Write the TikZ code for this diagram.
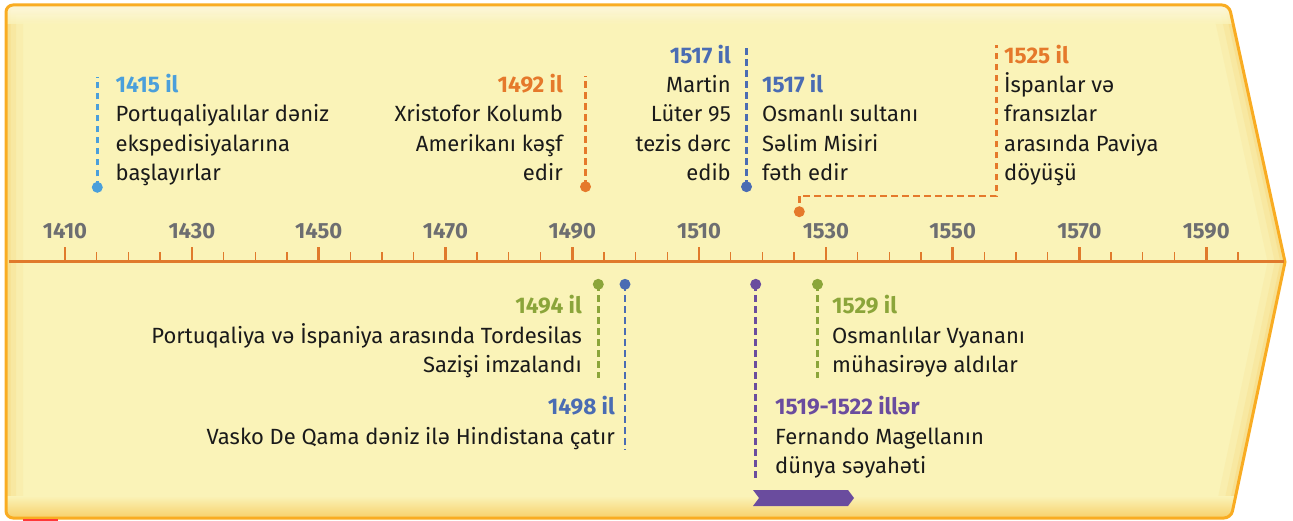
\documentclass[tikz,border=0pt]{standalone}
\usepackage{fontspec}
\setmainfont{Fira Sans}
\definecolor{bgfill}{HTML}{FAF3B8}
\definecolor{bgedge}{HTML}{F7D06A}
\definecolor{frame}{HTML}{F9AC22}
\definecolor{axisc}{HTML}{E07A2C}
\definecolor{yeargray}{HTML}{6D6E71}
\definecolor{lblue}{HTML}{4A9FDB}
\definecolor{orng}{HTML}{E5792B}
\definecolor{dblue}{HTML}{4A6CB3}
\definecolor{grn}{HTML}{8BA53A}
\definecolor{purp}{HTML}{6A4C9E}
\definecolor{txt}{HTML}{1A1A1A}
\tikzset{
  yl/.style={font=\fontsize{22.6}{26}\selectfont\bfseries, inner sep=0pt},
  tx/.style={font=\fontsize{22}{26}\selectfont, text=txt, inner sep=0pt},
  axlab/.style={font=\fontsize{22}{26}\selectfont\bfseries, text=yeargray, inner sep=0pt, anchor=base},
  dsh/.style={line width=2.7pt, dash pattern=on 6.5pt off 4.5pt},
  pin/.style={circle, inner sep=0pt, minimum size=11pt},
}
\newcommand\evt[8]{%
  \node[yl, text=#5, anchor=base #4] (#1) at (#2,#3) {#6};
  \foreach \evline [count=\i] in {#7} {\node[tx, anchor=base #4] (#1-\i) at (#2,{#3+\i*#8}) {\evline};}
}
\begin{document}
\begin{tikzpicture}[x=1pt,y=-1pt]
\useasboundingbox (0,0) rectangle (1293,521);
% background arrow shape
\def\shapepath{(1285,262) [rounded corners=7pt] -- (1231,518) -- (6,518) -- (6,5) -- (1229,5) [sharp corners] -- cycle}
\fill[bgfill] \shapepath;
\begin{scope}
  \clip \shapepath;
  \draw[bgedge, line width=34pt, opacity=0.12] \shapepath;
  \draw[bgedge, line width=20pt, opacity=0.18] \shapepath;
  \draw[bgedge, line width=9pt, opacity=0.3] \shapepath;
  \shade[top color=bgfill, bottom color=bgedge] (0,496) rectangle (1293,518);
  \shade[top color=white!75!bgfill, bottom color=bgfill, opacity=0.8] (0,5) rectangle (1293,24);
\end{scope}
\draw[frame, line width=3pt] \shapepath;
\fill[red!70!pink] (23,519.3) rectangle (58,521);
% axis
\coordinate (axL) at (9,262);
\coordinate (axR) at (1284,262);
\draw[axisc, line width=3pt] (axL) -- (axR);
\foreach \yr in {1410,1415,...,1595} {
  \pgfmathsetmacro\xx{65+(\yr-1410)*6.34}
  \draw[axisc, line width=1.3pt] (\xx,262) -- (\xx,252);
}
\foreach \yr in {1410,1430,...,1590} {
  \pgfmathsetmacro\xx{65+(\yr-1410)*6.34}
  \draw[axisc, line width=2.6pt] (\xx,262) -- (\xx,247.5);
  \node[axlab] (ax\yr) at (\xx,238.3) {\yr};
}
% connectors (top)
\node[pin, fill=lblue] (d1415) at (97.3,187.3) {};
\coordinate (t1415) at (97.3,77);
\draw[dsh, lblue] (d1415.center) -- (t1415);
\node[pin, fill=orng] (d1492) at (585.5,186.7) {};
\coordinate (t1492) at (585.5,76);
\draw[dsh, orng] (d1492.center) -- (t1492);
\node[pin, fill=dblue] (d1517) at (746.5,186.7) {};
\coordinate (t1517) at (746.5,45);
\draw[dsh, dblue] (d1517.center) -- (t1517);
\node[pin, fill=orng] (d1525) at (799.3,211.7) {};
\coordinate (s1525) at (799.3,203);
\coordinate (k1525) at (996.8,196);
\coordinate (t1525) at (996.8,45);
\draw[dsh, orng] (s1525) |- (k1525) -- (t1525);
% connectors (bottom)
\coordinate (b1494) at (598.3,377.5);
\coordinate (b1498) at (625,450);
\coordinate (b1519) at (755.7,480);
\coordinate (b1529) at (817.5,377.5);
\node[pin, fill=grn] (d1494) at (598.3,284.3) {};
\node[pin, fill=dblue] (d1498) at (625,284.3) {};
\node[pin, fill=purp] (d1519) at (755.7,284.3) {};
\node[pin, fill=grn] (d1529) at (817.5,284.3) {};
\draw[dsh, grn] (d1494.center) -- (b1494);
\draw[dsh, dblue] (d1498.center) -- (b1498);
\draw[dsh, purp] (d1519.center) -- (b1519);
\draw[dsh, grn] (d1529.center) -- (b1529);
% purple chevron
\fill[purp] (753,490) -- (848,490) -- (854,498) -- (848,506) -- (753,506) -- (759,498) -- cycle;
% events
\evt{e1415}{115.5}{92.7}{west}{lblue}{1415 il}{Portuqaliyalılar dəniz,ekspedisiyalarına,başlayırlar}{29.3}
\evt{e1492}{563}{92.7}{east}{orng}{1492 il}{Xristofor Kolumb,Amerikanı kəşf,edir}{29.3}
\evt{e1517a}{731}{63.4}{east}{dblue}{1517 il}{Martin,Lüter 95,tezis dərc,edib}{29.3}
\evt{e1517b}{762}{92.7}{west}{dblue}{1517 il}{Osmanlı sultanı,Səlim Misiri,fəth edir}{29.3}
\evt{e1525}{1004}{63.4}{west}{orng}{1525 il}{İspanlar və,fransızlar,arasında Paviya,döyüşü}{29.3}
\evt{e1494}{582}{313.5}{east}{grn}{1494 il}{Portuqaliya və İspaniya arasında Tordesilas,Sazişi imzalandı}{29.7}
\evt{e1498}{615}{414.5}{east}{dblue}{1498 il}{Vasko De Qama dəniz ilə Hindistana çatır}{29.7}
\evt{e1519}{775}{414.5}{west}{purp}{1519-1522 illər}{Fernando Magellanın,dünya səyahəti}{29.7}
\evt{e1529}{832}{313.5}{west}{grn}{1529 il}{Osmanlılar Vyananı,mühasirəyə aldılar}{29.7}
\end{tikzpicture}
\end{document}
